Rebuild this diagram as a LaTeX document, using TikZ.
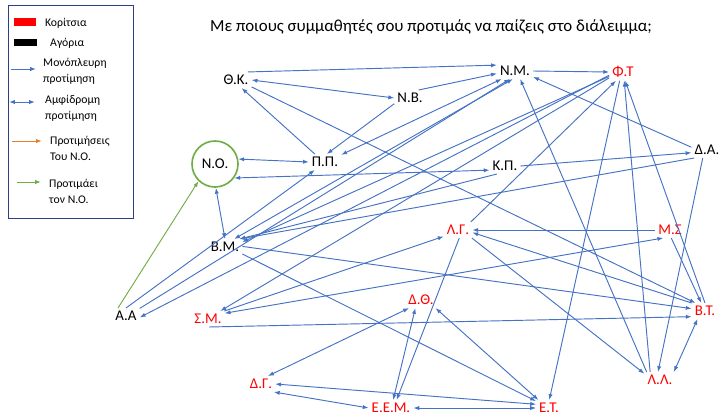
\documentclass[tikz,border=0pt]{standalone}
\usepackage{fontspec}
\setmainfont{Carlito}
\usepackage{xcolor}
\usepackage{tikz}
\usetikzlibrary{arrows.meta}

\definecolor{prefblue}{RGB}{68,114,196}
\definecolor{nogreen}{RGB}{112,173,71}
\definecolor{noorange}{RGB}{237,125,49}
\definecolor{legframe}{RGB}{47,62,130}

\tikzset{
	boy/.style={font=\fontsize{12.7}{15}\selectfont, inner sep=2.5pt},
	girl/.style={boy, text=red},
	pref/.style={prefblue, line width=0.8pt, -{Latex[length=5pt,width=3.6pt]}},
	mutual/.style={pref, {Latex[length=5pt,width=3.6pt]}-{Latex[length=5pt,width=3.6pt]}},
	toNO/.style={pref, nogreen},
	fromNO/.style={pref, noorange},
	legtext/.style={font=\fontsize{10}{13.6}\selectfont, anchor=west, align=left, inner sep=0pt}
}

\begin{document}
\begin{tikzpicture}[x=0.03cm, y=-0.03cm]
	\useasboundingbox (0,0) rectangle (721,419);
	
	\node(title) at (431,27) {\fontsize{14.4}{16}\selectfont Με ποιους συμμαθητές σου προτιμάς να παίζεις στο διάλειμμα;};
	
	% legend
	\draw[legframe, line width=0.8pt] (8,5) rectangle (133,218);
	\fill[red] (14,18) rectangle (36,26);
	\fill[black] (14,39) rectangle (37,46);
	\node[legtext] (lgirls) at (45,23) {Κορίτσια};
	\node[legtext] (lboys) at (50,43) {Αγόρια};
	\draw[pref] (11,69) -- (36,69);
	\node[legtext] (lone) at (43,71) {Μονόπλευρη\\προτίμηση};
	\draw[mutual] (9,102) -- (35,102);
	\node[legtext] (ltwo) at (45,108) {Αμφίδρομη\\προτίμηση};
	\draw[fromNO] (12,141) -- (42,141);
	\node[legtext] (lfrom) at (50,148) {Προτιμήσεις\\Του Ν.Ο.};
	\draw[toNO] (17,182) -- (41,182);
	\node[legtext] (lto) at (49,191) {Προτιμάει\\τον Ν.Ο.};
	
	% pupils
	\node[boy](ThK) at (236,80) {Θ.Κ.};
	\node[boy](NB) at (410,98) {Ν.Β.};
	\node[boy](NM) at (515,71) {Ν.Μ.};
	\node[girl](FT) at (623,72) {Φ.Τ};
	\node[boy, circle, draw=nogreen, line width=1.4pt, minimum size=1.38cm](NO) at (215,164) {Ν.Ο.};
	\node[boy](PP) at (325,162) {Π.Π.};
	\node[boy](KP) at (505,166) {Κ.Π.};
	\node[boy](DA) at (707,150) {Δ.Α.};
	\node[boy](BM) at (225,247) {Β.Μ.};
	\node[girl](LG) at (458,230) {Λ.Γ.};
	\node[girl](MS) at (670,230) {Μ.Σ};
	\node[boy](AA) at (126,316) {Α.Α};
	\node[girl](SM) at (208,319) {Σ.Μ.};
	\node[girl](DTh) at (421,300) {Δ.Θ.};
	\node[girl](BT) at (705,311) {Β.Τ.};
	\node[girl](LL) at (660,380) {Λ.Λ.};
	\node[girl](DG) at (261,384) {Δ.Γ.};
	\node[girl](EEM) at (391,408) {Ε.Ε.Μ.};
	\node[girl](ET) at (549,408) {Ε.Τ.};
	
	% one way
	\draw[pref] (ThK.34) -- (NM.162);
	\draw[pref] (NB.43) -- (NM.188);
	\draw[pref] (NB.200) -- (PP.77);
	\draw[pref] (PP.142) -- (ThK.305);
	\draw[pref] (ThK.336) -- (BT.140);
	\draw[pref] (AA.90) -- (PP.218);
	\draw[pref] (AA.29) -- (NM.238);
	\draw[pref] (FT.193) -- (AA.354);
	\draw[pref] (FT.203) -- (SM.33);
	\draw[pref] (FT.198) -- (BM.16);
	\draw[pref] (KP.225) -- (BM.29);
	\draw[pref] (DA.212) -- (BM.29);
	\draw[pref] (NM.east) -- (FT.west);
	\draw[pref] (LG.32) -- (FT.231);
	\draw[pref] (FT.249) -- (ET.88);
	\draw[pref] (LL.141) -- (FT.278);
	\draw[pref] (BT.north) -- (FT.284);
	\draw[pref] (DA.170) -- (NM.342);
	\draw[pref] (LL.149) -- (NM.303);
	\draw[pref] (BM.2) -- (BT.170);
	\draw[pref] (BM.338) -- (ET.152);
	\draw[pref] (MS.west) -- (LG.east);
	\draw[pref] (BT.149) -- (LG.350);
	\draw[pref] (SM.26) -- (LG.204);
	\draw[pref] (LG.330) -- (LL.158);
	\draw[pref] (LG.279) -- (EEM.55);
	\draw[pref] (KP.east) -- (DA.190);
	\draw[pref] (DA.242) -- (LL.104);
	\draw[pref] (MS.279) -- (BT.115);
	\draw[pref] (SM.278) -- (BT.203);
	
	% both ways
	\draw[mutual] (ThK.east) -- (NB.west);
	\draw[mutual] (NO.12) -- (PP.west);
	\draw[mutual] (NO.-36) -- (KP.195);
	\draw[mutual] (NO.-88) -- (BM.north);
	\draw[mutual] (PP.24) -- (NM.211);
	\draw[mutual] (BM.41) -- (NM.255);
	\draw[mutual] (SM.19) -- (MS.230);
	\draw[mutual] (LL.30) -- (BT.227);
	\draw[mutual] (DG.49) -- (DTh.214);
	\draw[mutual] (DTh.235) -- (EEM.75);
	\draw[mutual] (DTh.331) -- (ET.143);
	\draw[mutual] (DG.east) -- (ET.164);
	\draw[mutual] (DG.328) -- (EEM.west);
	\draw[mutual] (EEM.east) -- (ET.west);
	
	% towards N.O.
	\draw[toNO] (AA.135) -- (NO.226);
\end{tikzpicture}
\end{document}
